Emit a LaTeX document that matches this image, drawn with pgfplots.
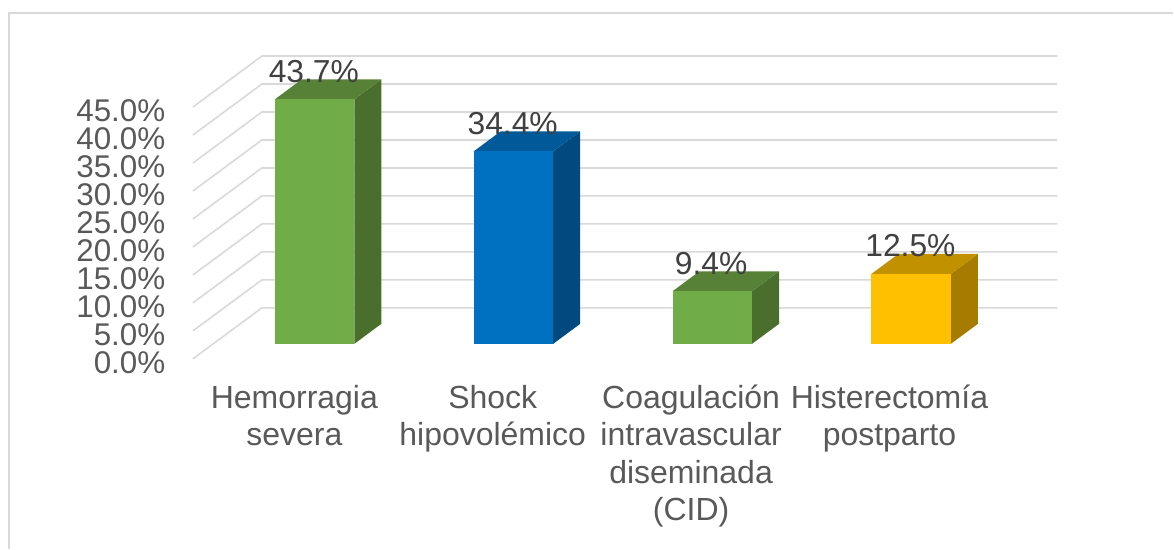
\documentclass[border=0pt]{standalone}
\usepackage{fontspec}
\setmainfont{Liberation Sans}
\usepackage{pgfplots}
\pgfplotsset{compat=1.18}
\definecolor{gridc}{HTML}{D9D9D9}
\definecolor{tickc}{HTML}{595959}
\definecolor{labc}{HTML}{404040}
\definecolor{gf}{HTML}{70AD47}
\definecolor{gt}{HTML}{578136}
\definecolor{gs}{HTML}{4A6F2C}
\definecolor{bf}{HTML}{0070C0}
\definecolor{bt}{HTML}{005A9A}
\definecolor{bs}{HTML}{004A7F}
\definecolor{yf}{HTML}{FFC000}
\definecolor{yt}{HTML}{C29100}
\definecolor{ys}{HTML}{A57C00}

\begin{document}
\begin{tikzpicture}
\begin{axis}[
  scale only axis,
  width=1174pt, height=549pt,
  xmin=0, xmax=1174,
  ymin=-36.607, ymax=61.429,
  clip=false,
  axis line style={draw=none},
  major tick length=0pt,
  unbounded coords=jump,
  font=\fontsize{32}{37.4}\selectfont,
  /pgf/number format/assume math mode=true,
  ytick={0,5,...,45},
  yticklabel={\pgfmathprintnumber[fixed,fixed zerofill,precision=1]{\tick}\%},
  yticklabel style={anchor=east, inner sep=0pt, xshift=165.5pt, yshift=-19pt, text=tickc, font=\fontsize{31.4}{37.4}\selectfont},
  xtick={294.5,493,691.5,890},
  xticklabels={Hemorragia\\severa, Shock\\hipovolémico, Coagulación\\intravascular\\diseminada\\(CID), Histerectomía\\postparto},
  xticklabel style={anchor=north, align=center, inner sep=0pt, yshift=164pt, text=tickc},
]
% frame, cut off by the image at right and bottom
\draw[gridc, line width=1.6pt] (axis cs:9,-36.607) -- (axis cs:9,59.107) -- (axis cs:1174,59.107);

% side wall and back wall lines
\addplot[gridc, line width=1.6pt, mark=none] coordinates {
  (193,-2.68) (262,6.43) (1058,6.43) (nan,nan)
  (193,2.32) (262,11.43) (1058,11.43) (nan,nan)
  (193,7.32) (262,16.43) (1058,16.43) (nan,nan)
  (193,12.32) (262,21.43) (1058,21.43) (nan,nan)
  (193,17.32) (262,26.43) (1058,26.43) (nan,nan)
  (193,22.32) (262,31.43) (1058,31.43) (nan,nan)
  (193,27.32) (262,36.43) (1058,36.43) (nan,nan)
  (193,32.32) (262,41.43) (1058,41.43) (nan,nan)
  (193,37.32) (262,46.43) (1058,46.43) (nan,nan)
  (193,42.32) (262,51.43) (1058,51.43)
};

% Hemorragia severa
\addplot[fill=gs, draw=none] coordinates {(354.5,0) (381.5,3.57) (381.5,47.27) (354.5,43.7)} --cycle;
\addplot[fill=gt, draw=none] coordinates {(275,43.7) (354.5,43.7) (381.5,47.27) (302,47.27)} --cycle;
\addplot[fill=gf, draw=none] coordinates {(275,0) (354.5,0) (354.5,43.7) (275,43.7)} --cycle;
% Shock hipovolemico
\addplot[fill=bs, draw=none] coordinates {(553.5,0) (580.5,3.57) (580.5,37.97) (553.5,34.4)} --cycle;
\addplot[fill=bt, draw=none] coordinates {(474,34.4) (553.5,34.4) (580.5,37.97) (501,37.97)} --cycle;
\addplot[fill=bf, draw=none] coordinates {(474,0) (553.5,0) (553.5,34.4) (474,34.4)} --cycle;
% CID
\addplot[fill=gs, draw=none] coordinates {(752.5,0) (779.5,3.57) (779.5,12.97) (752.5,9.4)} --cycle;
\addplot[fill=gt, draw=none] coordinates {(673,9.4) (752.5,9.4) (779.5,12.97) (700,12.97)} --cycle;
\addplot[fill=gf, draw=none] coordinates {(673,0) (752.5,0) (752.5,9.4) (673,9.4)} --cycle;
% Histerectomia postparto
\addplot[fill=ys, draw=none] coordinates {(951.5,0) (978.5,3.57) (978.5,16.07) (951.5,12.5)} --cycle;
\addplot[fill=yt, draw=none] coordinates {(872,12.5) (951.5,12.5) (978.5,16.07) (899,16.07)} --cycle;
\addplot[fill=yf, draw=none] coordinates {(872,0) (951.5,0) (951.5,12.5) (872,12.5)} --cycle;

% data labels
\addplot[draw=none, mark=none, point meta=y,
  nodes near coords={\pgfmathprintnumber[fixed,fixed zerofill,precision=1]{\pgfplotspointmeta}\%},
  nodes near coords align={anchor=center, yshift=28pt},
  every node near coord/.append style={text=labc, inner sep=0pt, font=\fontsize{31.8}{37.4}\selectfont},
] coordinates {(314,43.7) (513,34.4) (711.5,9.4) (911,12.5)};
\end{axis}
\end{tikzpicture}
\end{document}
